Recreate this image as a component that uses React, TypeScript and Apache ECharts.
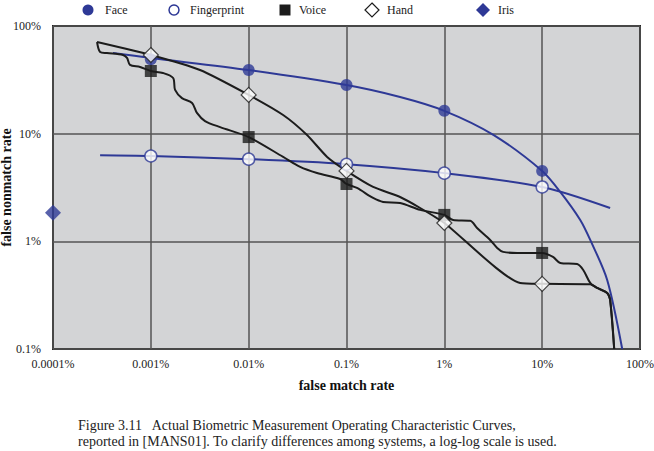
import React, { useEffect, useRef } from "react";
import * as echarts from "echarts";

// x: false match rate (%), y: false nonmatch rate (%)
const xTickLabels = ["0.0001%", "0.001%", "0.01%", "0.1%", "1%", "10%", "100%"];
const yTickLabels = ["0.1%", "1%", "10%", "100%"];

const faceCurve: [number, number][] = [
  [0.00041, 56.1], [0.001, 50.5], [0.01, 39.0], [0.1, 28.3], [0.353, 21.9], [1, 16.3],
  [3.2, 9.7], [10, 4.51], [15.3, 2.88], [24.5, 1.58], [31.0, 1.03], [46.2, 0.438], [65.8, 0.1],
];
const faceMarkers: [number, number][] = [
  [0.001, 49], [0.01, 39.0], [0.1, 28.3], [1, 16.3], [10, 4.51],
];

const fingerprintCurve: [number, number][] = [
  [0.000303, 6.3], [0.001, 6.2], [0.01, 5.8], [0.1, 5.2], [1, 4.3], [10, 3.2], [49.5, 2.04],
];
const fingerprintMarkers: [number, number][] = [
  [0.001, 6.2], [0.01, 5.8], [0.1, 5.2], [1, 4.3], [10, 3.2],
];

const voiceCurve: [number, number][] = [
  [0.000282, 71.0], [0.000303, 57.4], [0.000356, 56.1], [0.00052, 53.8], [0.000571, 50.5],
  [0.000612, 43.5], [0.000776, 41.6], [0.001, 38.2], [0.00133, 36.6], [0.00169, 32.9],
  [0.00177, 25.5], [0.00208, 21.4], [0.00264, 19.3], [0.00296, 15.6], [0.00358, 13.1],
  [0.00511, 11.5], [0.01, 9.3], [0.0225, 6.08], [0.0336, 4.91], [0.05, 4.31], [0.0861, 3.79],
  [0.1, 3.41], [0.128, 3.13], [0.187, 2.53], [0.237, 2.32], [0.353, 2.27], [0.566, 1.96],
  [1, 1.76], [1.23, 1.58], [1.84, 1.55], [2.16, 1.33], [2.94, 1.03], [3.47, 0.869],
  [3.99, 0.798], [5.55, 0.78], [10, 0.78], [12.9, 0.716], [15.3, 0.63], [22.8, 0.616],
  [26.3, 0.542], [31.0, 0.411], [36.5, 0.369], [46.2, 0.332], [49.5, 0.286], [54.5, 0.1],
];
const voiceMarkers: [number, number][] = [
  [0.001, 38.2], [0.01, 9.3], [0.1, 3.41], [1, 1.76], [10, 0.78],
];

const handCurve: [number, number][] = [
  [0.000282, 71.0], [0.001, 53.8], [0.00318, 39.0], [0.01, 22.9], [0.0225, 14.9],
  [0.0395, 9.72], [0.0634, 6.08], [0.1, 4.51], [0.187, 3.2], [0.353, 2.58], [0.566, 2.04],
  [1, 1.48], [5.96, 0.41], [10, 0.403], [31.0, 0.4], [36.5, 0.369], [46.2, 0.332],
  [49.5, 0.286], [54.5, 0.1],
];
const handMarkers: [number, number][] = [
  [0.001, 53.8], [0.01, 22.9], [0.1, 4.51], [1, 1.48], [10, 0.403],
];

const irisPoint: [number, number][] = [[0.0001, 1.84]];

const legendItems = [
  { name: "Face", kind: "circleFilled", cx: 88, tx: 105 },
  { name: "Fingerprint", kind: "circleHollow", cx: 174, tx: 190 },
  { name: "Voice", kind: "square", cx: 285, tx: 299 },
  { name: "Hand", kind: "diamondHollow", cx: 372, tx: 387 },
  { name: "Iris", kind: "diamondFilled", cx: 483, tx: 498 },
];

const captionLines = [
  "Figure 3.11   Actual Biometric Measurement Operating Characteristic Curves,",
  "reported in [MANS01]. To clarify differences among systems, a log-log scale is used.",
];

const BLUE = "#2e3996";
const BLACK = "#1c1c1c";
const FONT = "Liberation Serif";

export default function App() {
  const ref = useRef<HTMLDivElement>(null);

  useEffect(() => {
    document.body.style.margin = "0";
    if (!ref.current) return;
    const chart = echarts.init(ref.current, null, { renderer: "svg" });

    const legendGraphics: any[] = [];
    const ly = 10;
    legendItems.forEach((it) => {
      if (it.kind === "circleFilled") {
        legendGraphics.push({ type: "circle", shape: { cx: it.cx, cy: ly, r: 5.5 }, style: { fill: BLUE } });
      } else if (it.kind === "circleHollow") {
        legendGraphics.push({ type: "circle", shape: { cx: it.cx, cy: ly, r: 5 }, style: { fill: "#fff", stroke: BLUE, lineWidth: 1.5 } });
      } else if (it.kind === "square") {
        legendGraphics.push({ type: "rect", shape: { x: it.cx - 5.5, y: ly - 5.5, width: 11, height: 11 }, style: { fill: BLACK } });
      } else if (it.kind === "diamondHollow") {
        legendGraphics.push({ type: "polygon", shape: { points: [[it.cx, ly - 7], [it.cx + 7, ly], [it.cx, ly + 7], [it.cx - 7, ly]] }, style: { fill: "#fff", stroke: BLACK, lineWidth: 1.2 } });
      } else {
        legendGraphics.push({ type: "polygon", shape: { points: [[it.cx, ly - 7], [it.cx + 7, ly], [it.cx, ly + 7], [it.cx - 7, ly]] }, style: { fill: BLUE } });
      }
      legendGraphics.push({
        type: "text", x: it.tx, y: ly,
        style: { text: it.name, fontFamily: FONT, fontSize: 12, fill: "#222", verticalAlign: "middle", align: "left" },
      });
    });

    const lineSeries = (data: [number, number][], color: string, smooth: number) => ({
      type: "line", data, showSymbol: false, symbol: "none", smooth,
      lineStyle: { color, width: 2 }, z: 2,
    });

    const option: any = {
      animation: false,
      textStyle: { fontFamily: FONT },
      grid: {
        left: 53, right: 14, top: 26, bottom: 102, show: true, containLabel: false,
        outerBoundsMode: "none",
        backgroundColor: "#d3d4d6", borderColor: "#222", borderWidth: 2,
      },
      xAxis: {
        type: "log", min: 0.0001, max: 100, logBase: 10,
        axisLine: { show: false }, axisTick: { show: false },
        splitLine: { show: true, lineStyle: { color: "#555", width: 1.5 } },
        axisLabel: {
          margin: 9, color: "#222", fontFamily: FONT, fontSize: 12,
          formatter: (v: number) => xTickLabels[Math.round(Math.log10(v)) + 4] ?? "",
        },
        name: "false match rate", nameLocation: "middle", nameGap: 29,
        nameTextStyle: { fontFamily: FONT, fontWeight: "bold", fontSize: 14, color: "#111" },
      },
      yAxis: {
        type: "log", min: 0.1, max: 100, logBase: 10,
        axisLine: { show: false }, axisTick: { show: false },
        splitLine: { show: true, lineStyle: { color: "#555", width: 1.5 } },
        axisLabel: {
          margin: 12, color: "#222", fontFamily: FONT, fontSize: 12,
          formatter: (v: number) => yTickLabels[Math.round(Math.log10(v)) + 1] ?? "",
        },
        name: "false nonmatch rate", nameLocation: "middle", nameGap: 40, nameRotate: 90,
        nameMoveOverlap: false,
        nameTextStyle: { fontFamily: FONT, fontWeight: "bold", fontSize: 14, color: "#111" },
      },
      series: [
        lineSeries(faceCurve, BLUE, 0.3),
        lineSeries(fingerprintCurve, BLUE, 0.3),
        lineSeries(voiceCurve, BLACK, 0.3),
        lineSeries(handCurve, BLACK, 0.2),
        { type: "scatter", data: faceMarkers, symbol: "circle", symbolSize: 12, itemStyle: { color: BLUE }, z: 5 },
        { type: "scatter", data: fingerprintMarkers, symbol: "circle", symbolSize: 12, itemStyle: { color: "#fff", borderColor: BLUE, borderWidth: 1.5 }, z: 5 },
        { type: "scatter", data: voiceMarkers, symbol: "rect", symbolSize: 12, itemStyle: { color: BLACK }, z: 5 },
        { type: "scatter", data: handMarkers, symbol: "diamond", symbolSize: 15, itemStyle: { color: "#fff", borderColor: BLACK, borderWidth: 1.2 }, z: 6 },
        { type: "scatter", data: irisPoint, symbol: "diamond", symbolSize: 16, itemStyle: { color: BLUE }, z: 6, clip: false },
      ],
      graphic: [
        ...legendGraphics,
        {
          type: "text", x: 78, y: 425,
          style: { text: captionLines[0], fontFamily: FONT, fontSize: 14, fill: "#222", verticalAlign: "middle" },
        },
        {
          type: "text", x: 78, y: 441,
          style: { text: captionLines[1], fontFamily: FONT, fontSize: 14, fill: "#222", verticalAlign: "middle" },
        },
      ],
    };
    chart.setOption(option);
    return () => chart.dispose();
  }, []);

  return <div ref={ref} style={{ width: 654, height: 451, background: "#fff" }} />;
}
